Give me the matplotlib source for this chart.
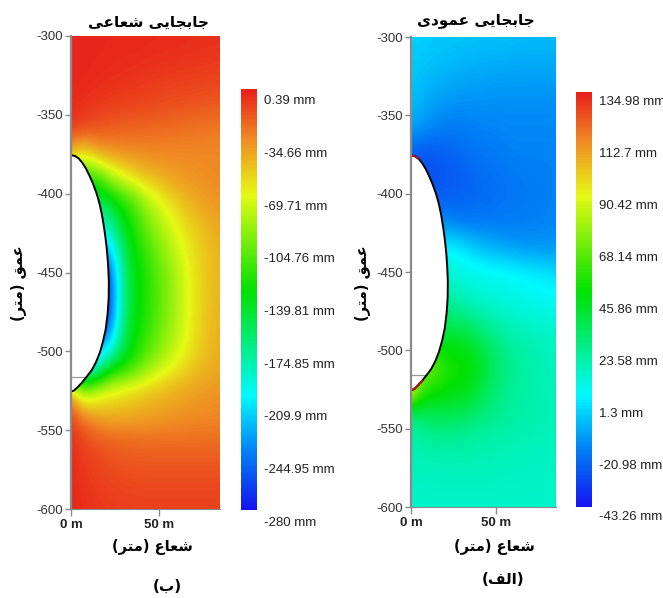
import numpy as np
import matplotlib
matplotlib.use("Agg")
import matplotlib.pyplot as plt
from matplotlib.colors import LinearSegmentedColormap
import matplotlib.transforms as mtransforms

# ---------------- data ----------------
x_cols = [0, 7, 14, 21, 28, 35, 42, 49, 56, 63, 70, 77, 84]          # radius (m)
z_rows = [-300, -315, -330, -345, -360, -375, -390, -405, -420, -435, -450,
          -465, -480, -495, -510, -525, -540, -555, -570, -585, -600]   # depth (m)

# radial displacement (mm)
radial_mm = [
    [-2, -2, -2, -3, -3, -3, -3, -4, -4, -4, -5, -5, -5],
    [-2, -2, -3, -3, -4, -4, -5, -5, -6, -6, -7, -7, -8],
    [-2, -3, -4, -5, -6, -7, -8, -9, -10, -11, -11, -12, -12],
    [-4, -6, -8, -10, -11, -12, -13, -14, -15, -16, -17, -18, -19],
    [-8, -14, -17, -19, -21, -22, -23, -24, -25, -26, -27, -28, -29],
    [-50, -65, -45, -40, -37, -35, -34, -33, -33, -33, -33, -33, -33],
    [-125, -125, -125, -95, -75, -62, -53, -47, -42, -38, -36, -34, -33],
    [-155, -155, -155, -150, -130, -115, -90, -75, -62, -52, -45, -40, -36],
    [-190, -190, -190, -185, -148, -128, -108, -90, -76, -64, -55, -48, -42],
    [-230, -230, -230, -225, -172, -136, -120, -102, -87, -73, -61, -53, -46],
    [-265, -265, -265, -265, -188, -140, -128, -110, -96, -78, -63, -53, -47],
    [-270, -270, -270, -270, -190, -142, -129, -112, -97, -80, -64, -54, -47],
    [-265, -265, -265, -265, -185, -140, -127, -110, -95, -79, -63, -53, -46],
    [-235, -235, -235, -225, -168, -137, -120, -103, -89, -75, -61, -52, -45],
    [-200, -200, -200, -150, -135, -120, -100, -85, -72, -62, -54, -48, -43],
    [-45, -100, -80, -70, -64, -59, -54, -50, -46, -43, -40, -38, -36],
    [-10, -30, -42, -46, -46, -45, -43, -41, -39, -37, -35, -34, -33],
    [-5, -12, -17, -21, -23, -24, -25, -25, -25, -25, -25, -25, -25],
    [-4, -8, -12, -14, -16, -17, -18, -18, -18, -18, -18, -18, -18],
    [-3, -6, -9, -11, -12, -13, -13, -13, -13, -13, -13, -13, -13],
    [-3, -5, -7, -8, -9, -10, -10, -10, -10, -10, -10, -10, -10],
]

# vertical displacement (mm)
vertical_mm = [
    [-3, -3, -4, -4, -5, -5, -6, -6, -6, -7, -7, -7, -7],
    [-4, -5, -6, -7, -8, -8, -9, -9, -9, -10, -10, -10, -10],
    [-5, -7, -9, -10, -11, -12, -12, -13, -13, -13, -13, -13, -13],
    [-7, -10, -13, -15, -16, -16, -16, -16, -16, -16, -16, -16, -16],
    [-12, -16, -19, -20, -20, -19, -18, -18, -17, -17, -17, -17, -17],
    [-27, -29, -28, -26, -24, -22, -21, -20, -19, -18, -18, -18, -18],
    [-29, -29, -29, -28, -27, -25, -23, -22, -21, -20, -19, -19, -18],
    [-26, -26, -26, -25, -25, -24, -23, -22, -21, -20, -20, -19, -18],
    [-16, -16, -16, -15, -18, -19, -19, -19, -19, -19, -18, -18, -17],
    [5, 5, 5, 5, 3, -2, -6, -9, -11, -13, -14, -14, -14],
    [12, 12, 12, 12, 11, 9, 8, 7, 6, 5, 3, 1, 0],
    [20, 20, 20, 20, 17, 14, 12, 11, 10, 9, 8, 7, 6],
    [33, 33, 33, 33, 30, 26, 22, 19, 16, 14, 13, 12, 11],
    [45, 45, 45, 44, 45, 42, 35, 29, 24, 21, 19, 17, 16],
    [70, 70, 68, 56, 52, 50, 42, 33, 27, 23, 20, 18, 17],
    [100, 60, 52, 50, 48, 45, 37, 30, 25, 22, 20, 18, 17],
    [26, 34, 37, 37, 36, 33, 29, 26, 23, 21, 20, 19, 18],
    [20, 22, 23, 23, 23, 22, 21, 20, 19, 18, 18, 17, 17],
    [17, 18, 18, 18, 18, 18, 18, 17, 17, 17, 16, 16, 16],
    [15, 15, 16, 16, 16, 16, 16, 16, 15, 15, 15, 15, 15],
    [14, 14, 14, 14, 14, 14, 14, 14, 14, 14, 14, 14, 14],
]

# cavern wall profile
cav_r = [0, 2.5, 4.5, 6.5, 8.5, 10.5, 12.5, 14.5, 16.2, 17.6, 18.8, 19.8, 20.6,
         21.2, 21.6, 21.5, 20.9, 19.8, 18.2, 16.4, 14.2, 11.8, 9, 6.5, 4, 1.8, 0]
cav_z = [-375.5, -376.2, -377.8, -380.5, -384, -388.5, -393.5, -399.5, -406,
         -413, -421, -429, -437, -446, -456, -466, -476, -486, -494, -501,
         -507, -512, -516, -519.5, -522.5, -524.8, -525.5]
brine_z = -516
brine_r = 9

radial_ticks = [0.39, -34.66, -69.71, -104.76, -139.81, -174.85, -209.9, -244.95, -280]
vertical_ticks = [134.98, 112.7, 90.42, 68.14, 45.86, 23.58, 1.3, -20.98, -43.26]

y_ticks = [-300, -350, -400, -450, -500, -550, -600]
x_ticks = [0, 50]
x_ticklabels = ["0 m", "50 m"]

title_left = "جابجایی شعاعی"
title_right = "جابجایی عمودی"
xlabel_txt = "شعاع (متر)"
ylabel_txt = "عمق (متر)"
cap_left = "(ب)"
cap_right = "(الف)"

# ---------------- minimal Arabic-script shaping for display ----------------
FORMS = {
    'ا': ('\uFE8D', '\uFE8E', None, None),
    'ب': ('\uFE8F', '\uFE90', '\uFE91', '\uFE92'),
    'ت': ('\uFE95', '\uFE96', '\uFE97', '\uFE98'),
    'ج': ('\uFE9D', '\uFE9E', '\uFE9F', '\uFEA0'),
    'د': ('\uFEA9', '\uFEAA', None, None),
    'ر': ('\uFEAD', '\uFEAE', None, None),
    'ش': ('\uFEB5', '\uFEB6', '\uFEB7', '\uFEB8'),
    'ع': ('\uFEC9', '\uFECA', '\uFECB', '\uFECC'),
    'ف': ('\uFED1', '\uFED2', '\uFED3', '\uFED4'),
    'ق': ('\uFED5', '\uFED6', '\uFED7', '\uFED8'),
    'ل': ('\uFEDD', '\uFEDE', '\uFEDF', '\uFEE0'),
    'م': ('\uFEE1', '\uFEE2', '\uFEE3', '\uFEE4'),
    'و': ('\uFEED', '\uFEEE', None, None),
    '\u06CC': ('\uFBFC', '\uFBFD', '\uFBFE', '\uFBFF'),
    '\u064A': ('\uFEF1', '\uFEF2', '\uFEF3', '\uFEF4'),
}


def rtl(s):
    out = []
    for i, c in enumerate(s):
        if c not in FORMS:
            out.append(c)
            continue
        prev = s[i - 1] if i > 0 else None
        nxt = s[i + 1] if i + 1 < len(s) else None
        jp = prev in FORMS and FORMS[prev][2] is not None
        jn = FORMS[c][2] is not None and nxt in FORMS
        iso, fin, ini, med = FORMS[c]
        if jp and jn:
            out.append(med)
        elif jp:
            out.append(fin)
        elif jn:
            out.append(ini)
        else:
            out.append(iso)
    vis = ''.join(out)[::-1]
    return vis.translate(str.maketrans({'(': ')', ')': '('}))


# ---------------- style ----------------
cmap = LinearSegmentedColormap.from_list("rs2", [
    (0.00, (0.08, 0.08, 0.94)),
    (0.14, (0.00, 0.51, 0.96)),
    (0.27, (0.00, 0.98, 1.00)),
    (0.52, (0.00, 0.88, 0.00)),
    (0.75, (0.90, 0.98, 0.08)),
    (0.88, (0.94, 0.55, 0.14)),
    (1.00, (0.91, 0.12, 0.10)),
])

AR = ['DejaVu Sans']
NUM = ['Liberation Sans', 'DejaVu Sans']
W, H = 663, 598

fig = plt.figure(figsize=(W / 100, H / 100), dpi=100)


def rect(x0, y0, x1, y1):
    return [x0 / W, 1 - y1 / H, (x1 - x0) / W, (y1 - y0) / H]


def panel(ax_px, cax_px, grid, ticks, shift_px, red_rim):
    ax = fig.add_axes(rect(*ax_px))
    dx = x_cols[1] - x_cols[0]
    dz = z_rows[0] - z_rows[1]
    vmin, vmax = min(ticks), max(ticks)
    im = ax.imshow(np.array(grid, dtype=float),
                   extent=[x_cols[0] - dx / 2, x_cols[-1] + dx / 2,
                           z_rows[-1] - dz / 2, z_rows[0] + dz / 2],
                   origin='upper', cmap=cmap, vmin=vmin, vmax=vmax,
                   interpolation='bicubic', aspect='auto', zorder=0)
    ax.fill(cav_r, cav_z, color='white', zorder=2, lw=0)
    ax.plot([0, brine_r], [brine_z, brine_z], color='#9a9a9a', lw=0.9, zorder=2.2)
    ax.plot(cav_r, cav_z, color='black', lw=1.4, zorder=3, solid_capstyle='round')
    if red_rim:
        ax.plot(cav_r[:3], cav_z[:3], color='#b01010', lw=1.4, zorder=3.1)
        ax.plot(cav_r[-4:], cav_z[-4:], color='#b01010', lw=1.6, zorder=3.1)
    ax.set_xlim(0, 85)
    ax.set_ylim(-600, -300)
    for s in ['top', 'right']:
        ax.spines[s].set_visible(False)
    ax.spines['left'].set_color('#8a8a8a')
    ax.spines['left'].set_linewidth(1.6)
    ax.spines['left'].set_zorder(4)
    ax.spines['bottom'].set_color('#8a8a8a')
    ax.spines['bottom'].set_linewidth(0.8)
    ax.set_yticks(y_ticks)
    ax.set_yticklabels([str(v) for v in y_ticks], fontsize=9.5, color='#333333',
                       family=NUM)
    ax.set_xticks(x_ticks)
    ax.set_xticklabels(x_ticklabels, fontsize=9.5, fontweight='bold', color='#222222',
                       family=NUM)
    ax.tick_params(axis='y', length=4, width=1, color='#8a8a8a', pad=2)
    ax.tick_params(axis='x', length=5, width=1, color='#8a8a8a', pad=2)

    cax = fig.add_axes(rect(*cax_px))
    cb = fig.colorbar(im, cax=cax, ticks=ticks)
    cb.outline.set_visible(False)
    cb.ax.set_yticklabels([f"{t:g} mm" for t in ticks], fontsize=9.5,
                          family=NUM, color='#222222')
    cb.ax.tick_params(length=0, pad=5)
    off = mtransforms.ScaledTranslation(0, -shift_px / 100, fig.dpi_scale_trans)
    for lab in cb.ax.get_yticklabels():
        lab.set_transform(lab.get_transform() + off)
    return ax


panel((71, 36, 220, 509), (241, 89, 257, 510), radial_mm, radial_ticks, 11, False)
panel((411, 37, 556, 507), (576, 92, 592, 507), vertical_mm, vertical_ticks, 9, True)


def ftext(x, y, s, size, rot=0):
    fig.text(x / W, 1 - y / H, rtl(s), ha='center', va='center', fontsize=size,
             fontweight='bold', family=AR, rotation=rot, color='black')


ftext(148, 22, title_left, 11)
ftext(476, 20, title_right, 11)
ftext(152, 547, xlabel_txt, 10.5)
ftext(494, 547, xlabel_txt, 10.5)
ftext(18, 283, ylabel_txt, 10.5, rot=90)
ftext(362, 283, ylabel_txt, 10.5, rot=90)
ftext(167, 586, cap_left, 11)
ftext(503, 580, cap_right, 11)

fig.savefig("out.png", dpi=100)
